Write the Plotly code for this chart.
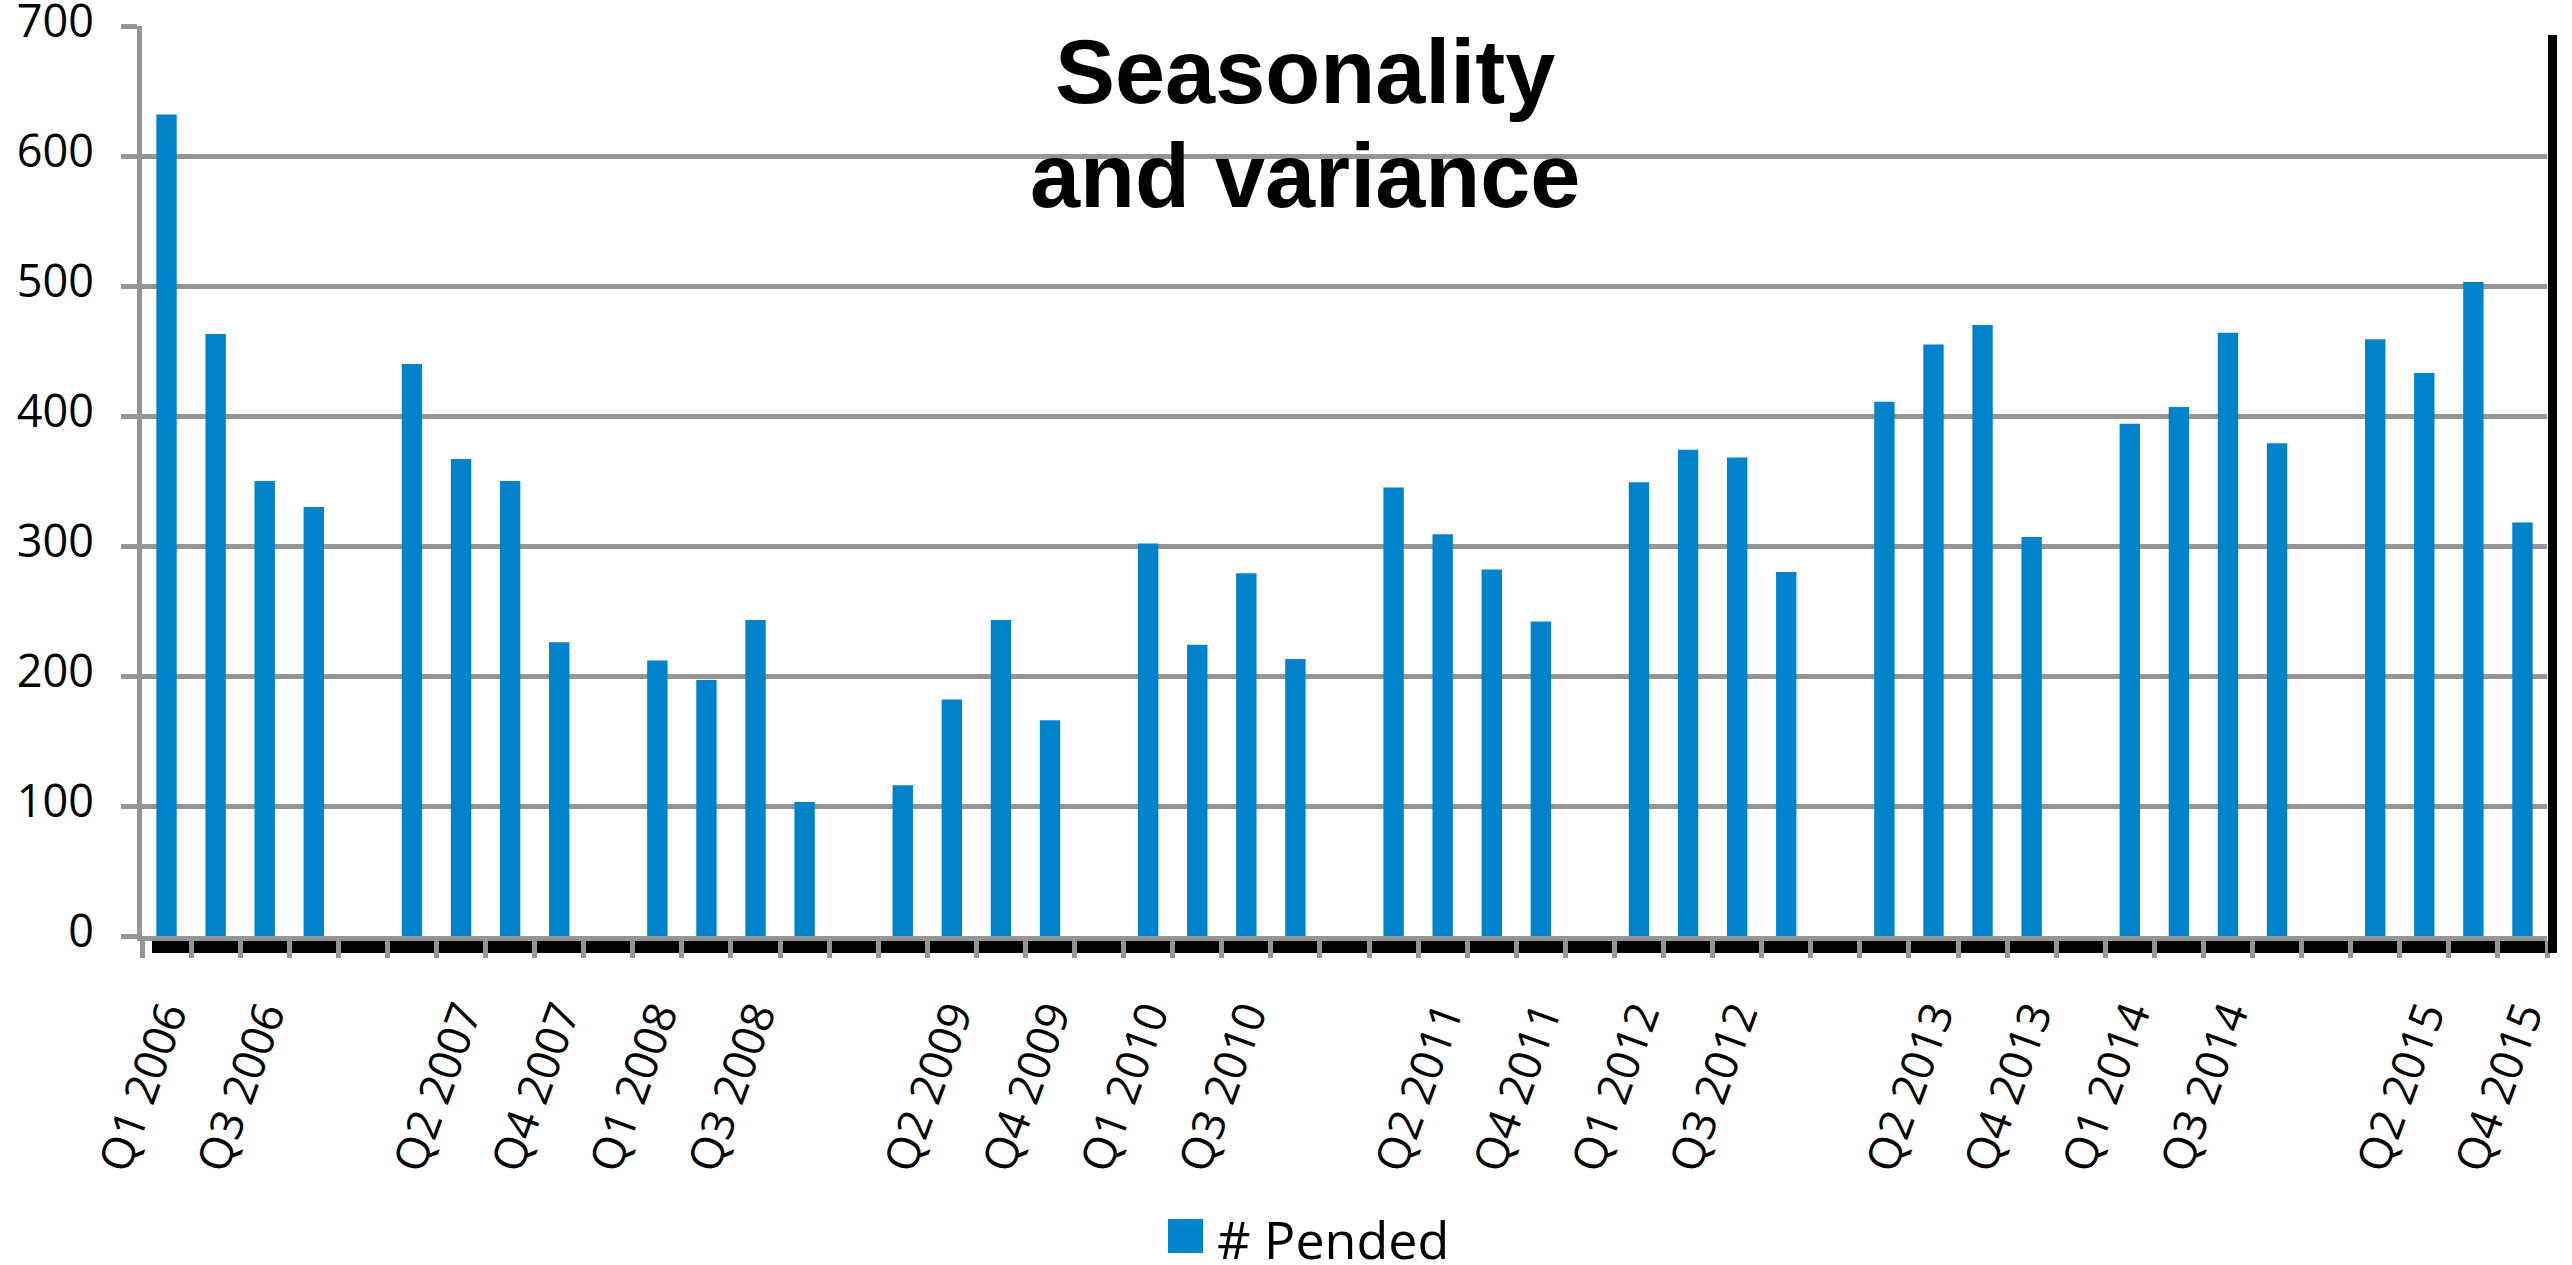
import plotly.graph_objects as go

# Quarterly counts of pended items, 2006-2015
years = [2006, 2007, 2008, 2009, 2010, 2011, 2012, 2013, 2014, 2015]
quarter_names = ["Q1", "Q2", "Q3", "Q4"]
pended = [
    632, 463, 350, 330,   # 2006
    440, 367, 350, 226,   # 2007
    212, 197, 243, 103,   # 2008
    116, 182, 243, 166,   # 2009
    302, 224, 279, 213,   # 2010
    345, 309, 282, 242,   # 2011
    349, 374, 368, 280,   # 2012
    411, 455, 470, 307,   # 2013
    394, 407, 464, 379,   # 2014
    459, 433, 503, 318,   # 2015
]
y_ticks = [0, 100, 200, 300, 400, 500, 600, 700]
title_lines = ["Seasonality", "and variance"]
series_name = "# Pended"

# Category slots: four quarters per year, with an empty spacer slot between years
categories, values, is_spacer = [], [], []
k = 0
for yi, yr in enumerate(years):
    for q in quarter_names:
        categories.append(f"{q} {yr}")
        values.append(pended[k])
        is_spacer.append(False)
        k += 1
    if yi < len(years) - 1:
        categories.append(f"spacer {yr}")
        values.append(None)
        is_spacer.append(True)

# Every second slot carries a label
tick_text = [
    ("" if is_spacer[i] else categories[i]) if i % 2 == 0 else ""
    for i in range(len(categories))
]

BLUE = "#0083CB"
GRID = "#959595"

# Plot-area geometry in pixels
W, H = 2572, 1265
ML, MR, MT, MB = 142, 25, 26, 329
PW, PH = W - ML - MR, H - MT - MB


def px_x(p):
    return (p - ML) / PW


def px_y(p):
    return (H - MB - p) / PH


fig = go.Figure()
fig.add_trace(go.Bar(
    x=categories,
    y=values,
    name=series_name,
    marker=dict(color=BLUE, line=dict(width=0)),
    showlegend=False,
))

fig.update_layout(
    width=W,
    height=H,
    margin=dict(l=ML, r=MR, t=MT, b=MB, pad=0),
    paper_bgcolor="white",
    plot_bgcolor="white",
    bargap=0.585,
    font=dict(family="Open Sans", color="black"),
    xaxis=dict(
        type="category",
        categoryorder="array",
        categoryarray=categories,
        tickmode="array",
        tickvals=categories,
        ticktext=tick_text,
        tickson="boundaries",
        ticks="outside",
        ticklen=17,
        tickwidth=5,
        tickcolor=GRID,
        tickangle=-70,
        tickfont=dict(family="Open Sans", size=45, color="black"),
        ticklabelstandoff=30,
        showline=True,
        linecolor=GRID,
        linewidth=5,
        showgrid=False,
        zeroline=False,
        automargin=False,
        range=[-0.5, len(categories) - 0.5],
    ),
    yaxis=dict(
        range=[0, 700],
        tickmode="array",
        tickvals=y_ticks,
        ticks="outside",
        ticklen=16,
        tickwidth=5,
        tickcolor=GRID,
        tickfont=dict(family="Open Sans", size=45, color="black"),
        ticklabelstandoff=18,
        ticklabelshift=-5,
        ticklabeloverflow="allow",
        showline=True,
        linecolor=GRID,
        linewidth=5,
        showgrid=True,
        gridcolor=GRID,
        gridwidth=5,
        zeroline=False,
        automargin=False,
    ),
)

# Black band under the category axis and the dark right-hand border
fig.add_shape(type="rect", xref="paper", yref="paper",
              x0=px_x(152), x1=px_x(2546), y0=px_y(953), y1=px_y(939),
              fillcolor="black", line=dict(width=0), layer="below")
fig.add_shape(type="line", xref="paper", yref="paper",
              x0=px_x(2552.5), x1=px_x(2552.5), y0=px_y(953), y1=px_y(35),
              line=dict(color="black", width=9), layer="above")

# Two-line heading inside the plot
for txt, yc in zip(title_lines, [72, 176]):
    fig.add_annotation(
        text=f"<b>{txt}</b>", xref="paper", yref="paper",
        x=px_x(1305), y=px_y(yc), xanchor="center", yanchor="middle",
        showarrow=False,
        font=dict(family="Liberation Sans, Arial", size=90, color="black"),
    )

# Legend entry below the axis
fig.add_shape(type="rect", xref="paper", yref="paper",
              x0=px_x(1168), x1=px_x(1203), y0=px_y(1253), y1=px_y(1219),
              fillcolor=BLUE, line=dict(width=0))
fig.add_annotation(
    text=series_name, xref="paper", yref="paper",
    x=px_x(1216), y=px_y(1238), xanchor="left", yanchor="middle",
    height=52, valign="middle",
    showarrow=False, borderpad=0,
    font=dict(family="Open Sans", size=52, color="black"),
)

fig.write_html("out.html")
